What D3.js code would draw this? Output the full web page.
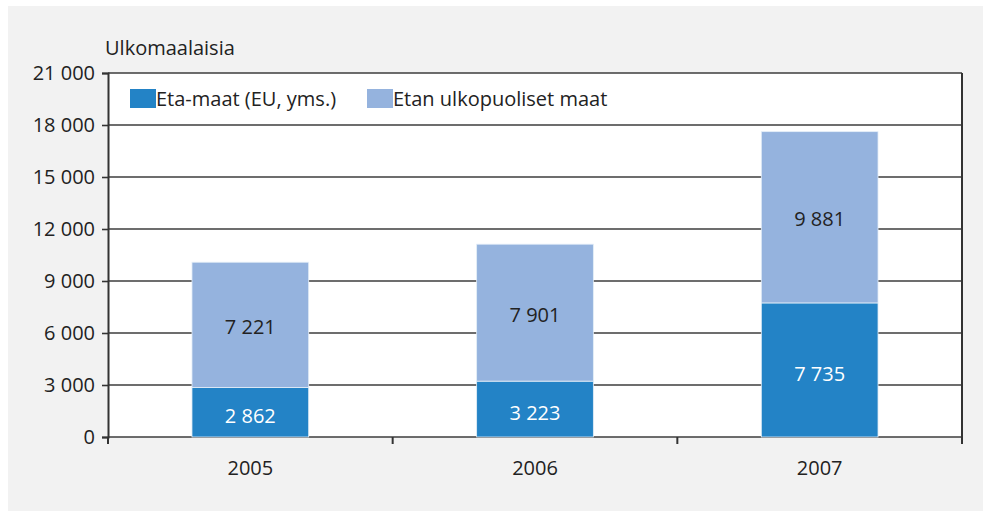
<!DOCTYPE html>
<html>
<head>
<meta charset="utf-8">
<script src="https://cdn.jsdelivr.net/npm/d3@7"></script>
<style>
  body { margin: 0; background: #fff; }
  svg { display: block; font-family: "Open Sans", "Noto Sans", sans-serif; }
</style>
</head>
<body>
<div id="chart"></div>
<script>
// data
const years = ["2005", "2006", "2007"];
const eta = [2862, 3223, 7735];
const muut = [7221, 7901, 9881];
const yTicks = [0, 3000, 6000, 9000, 12000, 15000, 18000, 21000];
const seriesNames = ["Eta-maat (EU, yms.)", "Etan ulkopuoliset maat"];
const colors = ["#2383c6", "#95b3de"];

const W = 984, H = 511;
const margin = {top: 73, right: 22, bottom: 74, left: 108};

const svg = d3.select("#chart").append("svg")
    .attr("width", W).attr("height", H);

// grey panel
svg.append("rect").attr("x", 8).attr("y", 6).attr("width", 975).attr("height", 505).attr("fill", "#f2f2f2");

const x = d3.scaleBand().domain(years).range([margin.left, W - margin.right]);
const y = d3.scaleLinear().domain([0, 21000]).range([H - margin.bottom, margin.top]);

const loc = d3.formatLocale({decimal: ",", thousands: "\u00a0", grouping: [3], currency: ["", ""]});
const fmt = loc.format(",");

// plot background
svg.append("rect").attr("x", margin.left).attr("y", margin.top)
    .attr("width", W - margin.left - margin.right).attr("height", H - margin.top - margin.bottom)
    .attr("fill", "#fff");

// gridlines
svg.append("g").selectAll("line").data(yTicks).enter().append("line")
    .attr("x1", margin.left).attr("x2", W - margin.right)
    .attr("y1", d => y(d)).attr("y2", d => y(d))
    .attr("stroke", "#3d3d3d").attr("stroke-width", 1.6);

// stacked bars
const stackData = years.map((yr, i) => ({year: yr, eta: eta[i], muut: muut[i]}));
const stack = d3.stack().keys(["eta", "muut"])(stackData);
const bw = x.bandwidth() * 0.41;

const layers = svg.append("g").selectAll("g").data(stack).enter().append("g")
    .attr("fill", (d, i) => colors[i]);

layers.selectAll("rect").data(d => d).enter().append("rect")
    .attr("x", d => x(d.data.year) + (x.bandwidth() - bw) / 2)
    .attr("width", bw)
    .attr("y", d => y(d[1]))
    .attr("height", d => y(d[0]) - y(d[1]))
    .attr("stroke", "#e4eef8").attr("stroke-width", 0.8);

// value labels
stack.forEach((layer, li) => {
    svg.append("g").selectAll("text").data(layer).enter().append("text")
        .attr("x", d => x(d.data.year) + x.bandwidth() / 2)
        .attr("y", d => (y(d[0]) + y(d[1])) / 2)
        .attr("dy", li === 0 ? "0.55em" : "0.45em")
        .attr("text-anchor", "middle")
        .attr("font-size", 20)
        .attr("fill", li === 0 ? "#fff" : "#222")
        .text(d => fmt(d[1] - d[0]));
});

// y axis
const yAxis = svg.append("g").attr("transform", `translate(${margin.left},0)`)
    .call(d3.axisLeft(y).tickValues(yTicks).tickFormat(fmt).tickSize(6).tickPadding(7));
yAxis.select(".domain").attr("stroke", "#333").attr("stroke-width", 2);
yAxis.selectAll(".tick line").attr("stroke", "#333").attr("stroke-width", 1.6);
yAxis.selectAll("text").attr("font-size", 20).attr("fill", "#222").attr("font-family", "\"Open Sans\", sans-serif");

// right border
svg.append("line").attr("x1", W - margin.right).attr("x2", W - margin.right)
    .attr("y1", margin.top).attr("y2", H - margin.bottom + 7)
    .attr("stroke", "#333").attr("stroke-width", 2);

// x axis
const xAxis = svg.append("g").attr("transform", `translate(0,${H - margin.bottom})`)
    .call(d3.axisBottom(x).tickSize(0).tickPadding(24));
xAxis.select(".domain").remove();
xAxis.selectAll("text").attr("font-size", 20).attr("fill", "#222").attr("font-family", "\"Open Sans\", sans-serif");

// category separators
svg.append("g").selectAll("line").data(years.slice(0, 2)).enter().append("line")
    .attr("x1", d => x(d) + x.bandwidth()).attr("x2", d => x(d) + x.bandwidth())
    .attr("y1", H - margin.bottom).attr("y2", H - margin.bottom + 7)
    .attr("stroke", "#333").attr("stroke-width", 2);
svg.append("line").attr("x1", margin.left).attr("x2", margin.left)
    .attr("y1", H - margin.bottom).attr("y2", H - margin.bottom + 7)
    .attr("stroke", "#333").attr("stroke-width", 2);

// y title
svg.append("text").attr("x", 105).attr("y", 55).attr("font-size", 20).attr("fill", "#222")
    .text("Ulkomaalaisia");

// legend
const legend = svg.append("g");
const legX = [130, 367];
seriesNames.forEach((name, i) => {
    legend.append("rect").attr("x", legX[i]).attr("y", 89).attr("width", 26).attr("height", 19)
        .attr("fill", colors[i]);
    legend.append("text").attr("x", legX[i] + 26).attr("y", 106).attr("font-size", 20)
        .attr("fill", "#222").text(name);
});
</script>
</body>
</html>
